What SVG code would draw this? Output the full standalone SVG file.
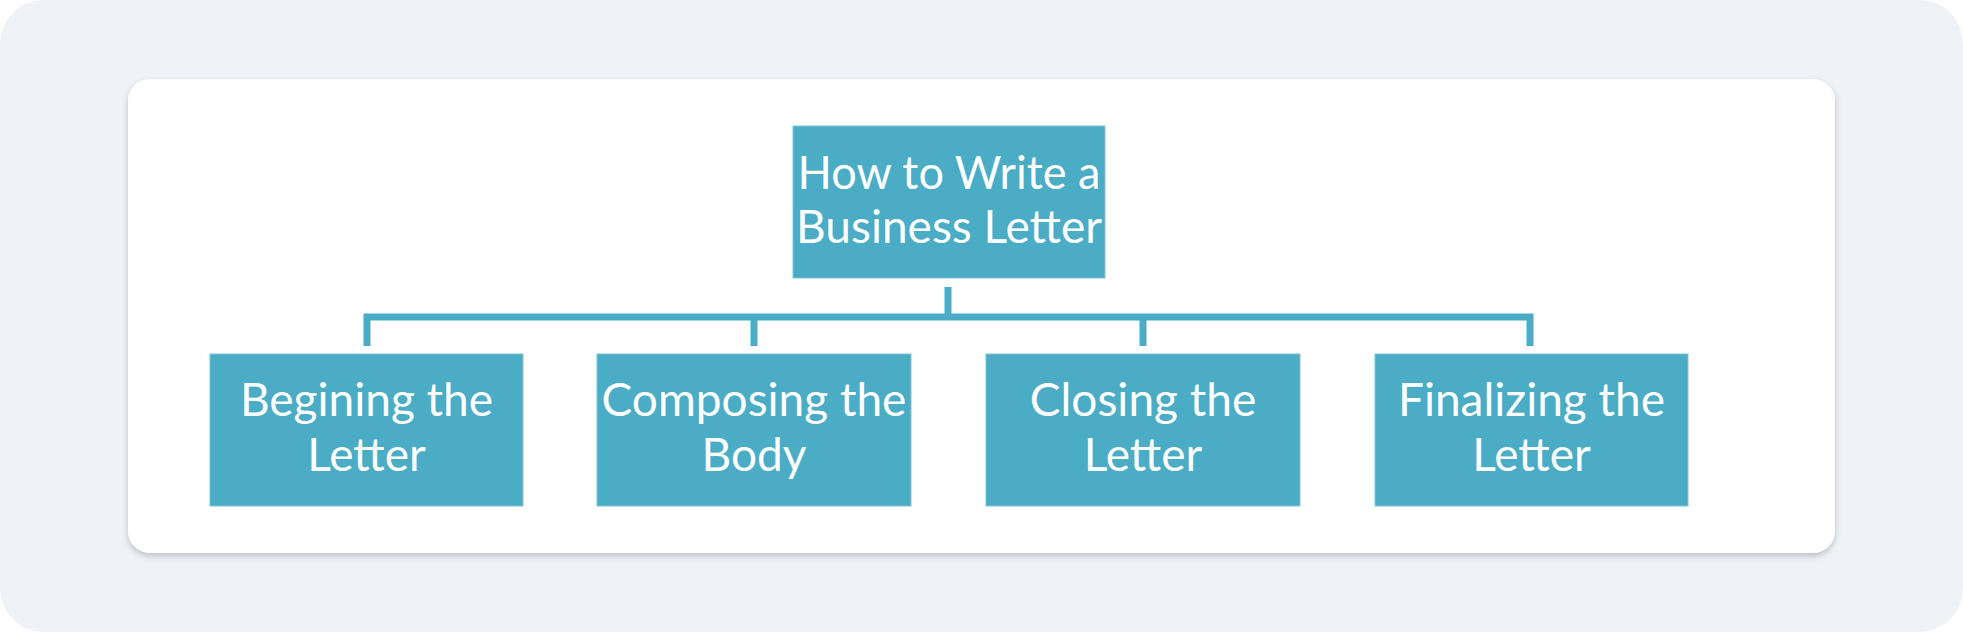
<svg xmlns="http://www.w3.org/2000/svg" width="1963" height="632" viewBox="0 0 1963 632">
<style>
.box{fill:#4bacc6;stroke:#7fc4d6;stroke-width:1}
.lbl{font-family:Lato,"Open Sans",sans-serif;font-size:46px;fill:#ffffff;text-anchor:middle}
.conn{fill:none;stroke:#4bacc6;stroke-width:7;stroke-linejoin:miter}
</style>
<defs>
<filter id="sh" x="-5%" y="-5%" width="110%" height="115%">
<feDropShadow dx="0" dy="3" stdDeviation="3" flood-color="#000000" flood-opacity="0.22"/>
</filter>
</defs>
<rect x="0" y="0" width="1963" height="632" rx="44" fill="#eff3f8"/>
<rect x="128" y="79" width="1707" height="474" rx="22" fill="#ffffff" filter="url(#sh)"/>
<g id="connectors">
<path class="conn" d="M948,287 V317"/>
<path class="conn" d="M367,346 V317 H1530 V346"/>
<path class="conn" d="M754,317 V346"/>
<path class="conn" d="M1143,317 V346"/>
</g>
<g id="root">
<rect class="box" x="793" y="126" width="312" height="152"/>
<text class="lbl" x="949" y="189" textLength="303" lengthAdjust="spacingAndGlyphs">How to Write a</text>
<text class="lbl" x="949" y="243">Business Letter</text>
</g>
<g id="n1">
<rect class="box" x="210" y="354" width="313" height="152"/>
<text class="lbl" x="366.5" y="416">Begining the</text>
<text class="lbl" x="366.5" y="471">Letter</text>
</g>
<g id="n2">
<rect class="box" x="597" y="354" width="314" height="152"/>
<text class="lbl" x="754" y="416">Composing the</text>
<text class="lbl" x="754" y="471">Body</text>
</g>
<g id="n3">
<rect class="box" x="986" y="354" width="314" height="152"/>
<text class="lbl" x="1143" y="416">Closing the</text>
<text class="lbl" x="1143" y="471">Letter</text>
</g>
<g id="n4">
<rect class="box" x="1375" y="354" width="313" height="152"/>
<text class="lbl" x="1531.5" y="416">Finalizing the</text>
<text class="lbl" x="1531.5" y="471">Letter</text>
</g>
</svg>
